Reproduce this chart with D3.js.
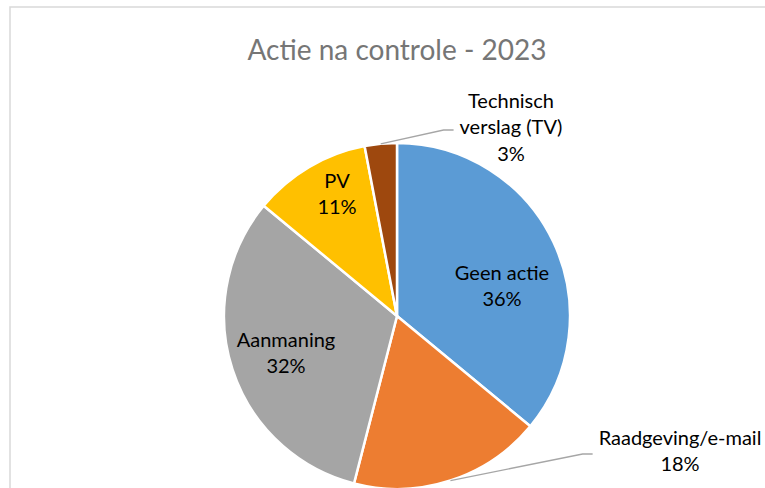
<!DOCTYPE html>
<html>
<head>
<meta charset="utf-8">
<script src="https://cdn.jsdelivr.net/npm/d3@7"></script>
<style>
    body { margin: 0; background: #fff; }
    svg { display: block; font-family: Lato, "Open Sans", sans-serif; }
    .frame { fill: none; stroke: #d9d9d9; stroke-width: 1.5; }
    .title { fill: #767676; font-size: 28px; text-anchor: middle; }
    .slice { stroke: #fff; stroke-width: 2.5; }
    .label { fill: #000; font-size: 20px; text-anchor: middle; }
    .leader { fill: none; stroke: #a6a6a6; stroke-width: 1.3; }
</style>
</head>
<body>
<script>
//chart data
var categories = ["Geen actie", "Raadgeving/e-mail", "Aanmaning", "PV", "Technisch verslag (TV)"];
var values = [36, 18, 32, 11, 3];
var labelLines = [["Geen actie"], ["Raadgeving/e-mail"], ["Aanmaning"], ["PV"], ["Technisch", "verslag (TV)"]];
var colors = ["#5b9bd5", "#ed7d31", "#a5a5a5", "#ffc000", "#9e480e"];
var title = "Actie na controle - 2023";

//label placement (offset of label block centre from pie centre), outside labels get a leader line
var labelLayout = {
    "Geen actie": {dx: 105, dy: -30, outside: false},
    "Raadgeving/e-mail": {dx: 283, dy: 135, outside: true},
    "Aanmaning": {dx: -111, dy: 37, outside: false},
    "PV": {dx: -60, dy: -122, outside: false},
    "Technisch verslag (TV)": {dx: 114, dy: -189, outside: true}
};

var width = 765, height = 488,
    cx = 397, cy = 316, radius = 173,
    lineHeight = 26.5;

var svg = d3.select("body").append("svg")
    .attr("width", width)
    .attr("height", height);

//chart area border (only top and left visible)
svg.append("path")
    .attr("class", "frame")
    .attr("d", "M10," + (height + 2) + "V7H" + (width + 2));

svg.append("text")
    .attr("class", "title")
    .attr("x", cx)
    .attr("y", 60)
    .text(title);

var data = categories.map(function(c, i){
    return {name: c, value: values[i], lines: labelLines[i], color: colors[i]};
});

var pie = d3.pie()
    .sort(null)
    .value(function(d){ return d.value; });

var arcs = pie(data);
var total = d3.sum(values);

var arc = d3.arc()
    .innerRadius(0)
    .outerRadius(radius);

var g = svg.append("g")
    .attr("transform", "translate(" + cx + "," + cy + ")");

g.selectAll(".slice")
    .data(arcs)
    .enter()
    .append("path")
    .attr("class", "slice")
    .attr("d", arc)
    .style("fill", function(d){ return d.data.color; });

//labels
arcs.forEach(function(d){
    var lay = labelLayout[d.data.name];
    var lines = d.data.lines.concat([Math.round(d.data.value / total * 100) + "%"]);
    var n = lines.length;
    var t = g.append("text")
        .attr("class", "label");
    lines.forEach(function(line, i){
        t.append("tspan")
            .attr("x", lay.dx)
            .attr("y", lay.dy + (i - (n - 1) / 2) * lineHeight)
            .attr("dy", "0.35em")
            .text(line);
    });

    if (lay.outside){
        //width of widest line to find the left edge of the label
        var w = 0;
        t.selectAll("tspan").each(function(){
            w = Math.max(w, this.getComputedTextLength());
        });
        var mid = (d.startAngle + d.endAngle) / 2;
        var start = [Math.sin(mid) * radius, -Math.cos(mid) * radius];
        var endX = lay.dx - w / 2 - 6,
            endY = lay.dy + 3;
        g.append("path")
            .attr("class", "leader")
            .attr("d", d3.line()([start, [endX - 10, endY], [endX, endY]]));
    }
});
</script>
</body>
</html>
